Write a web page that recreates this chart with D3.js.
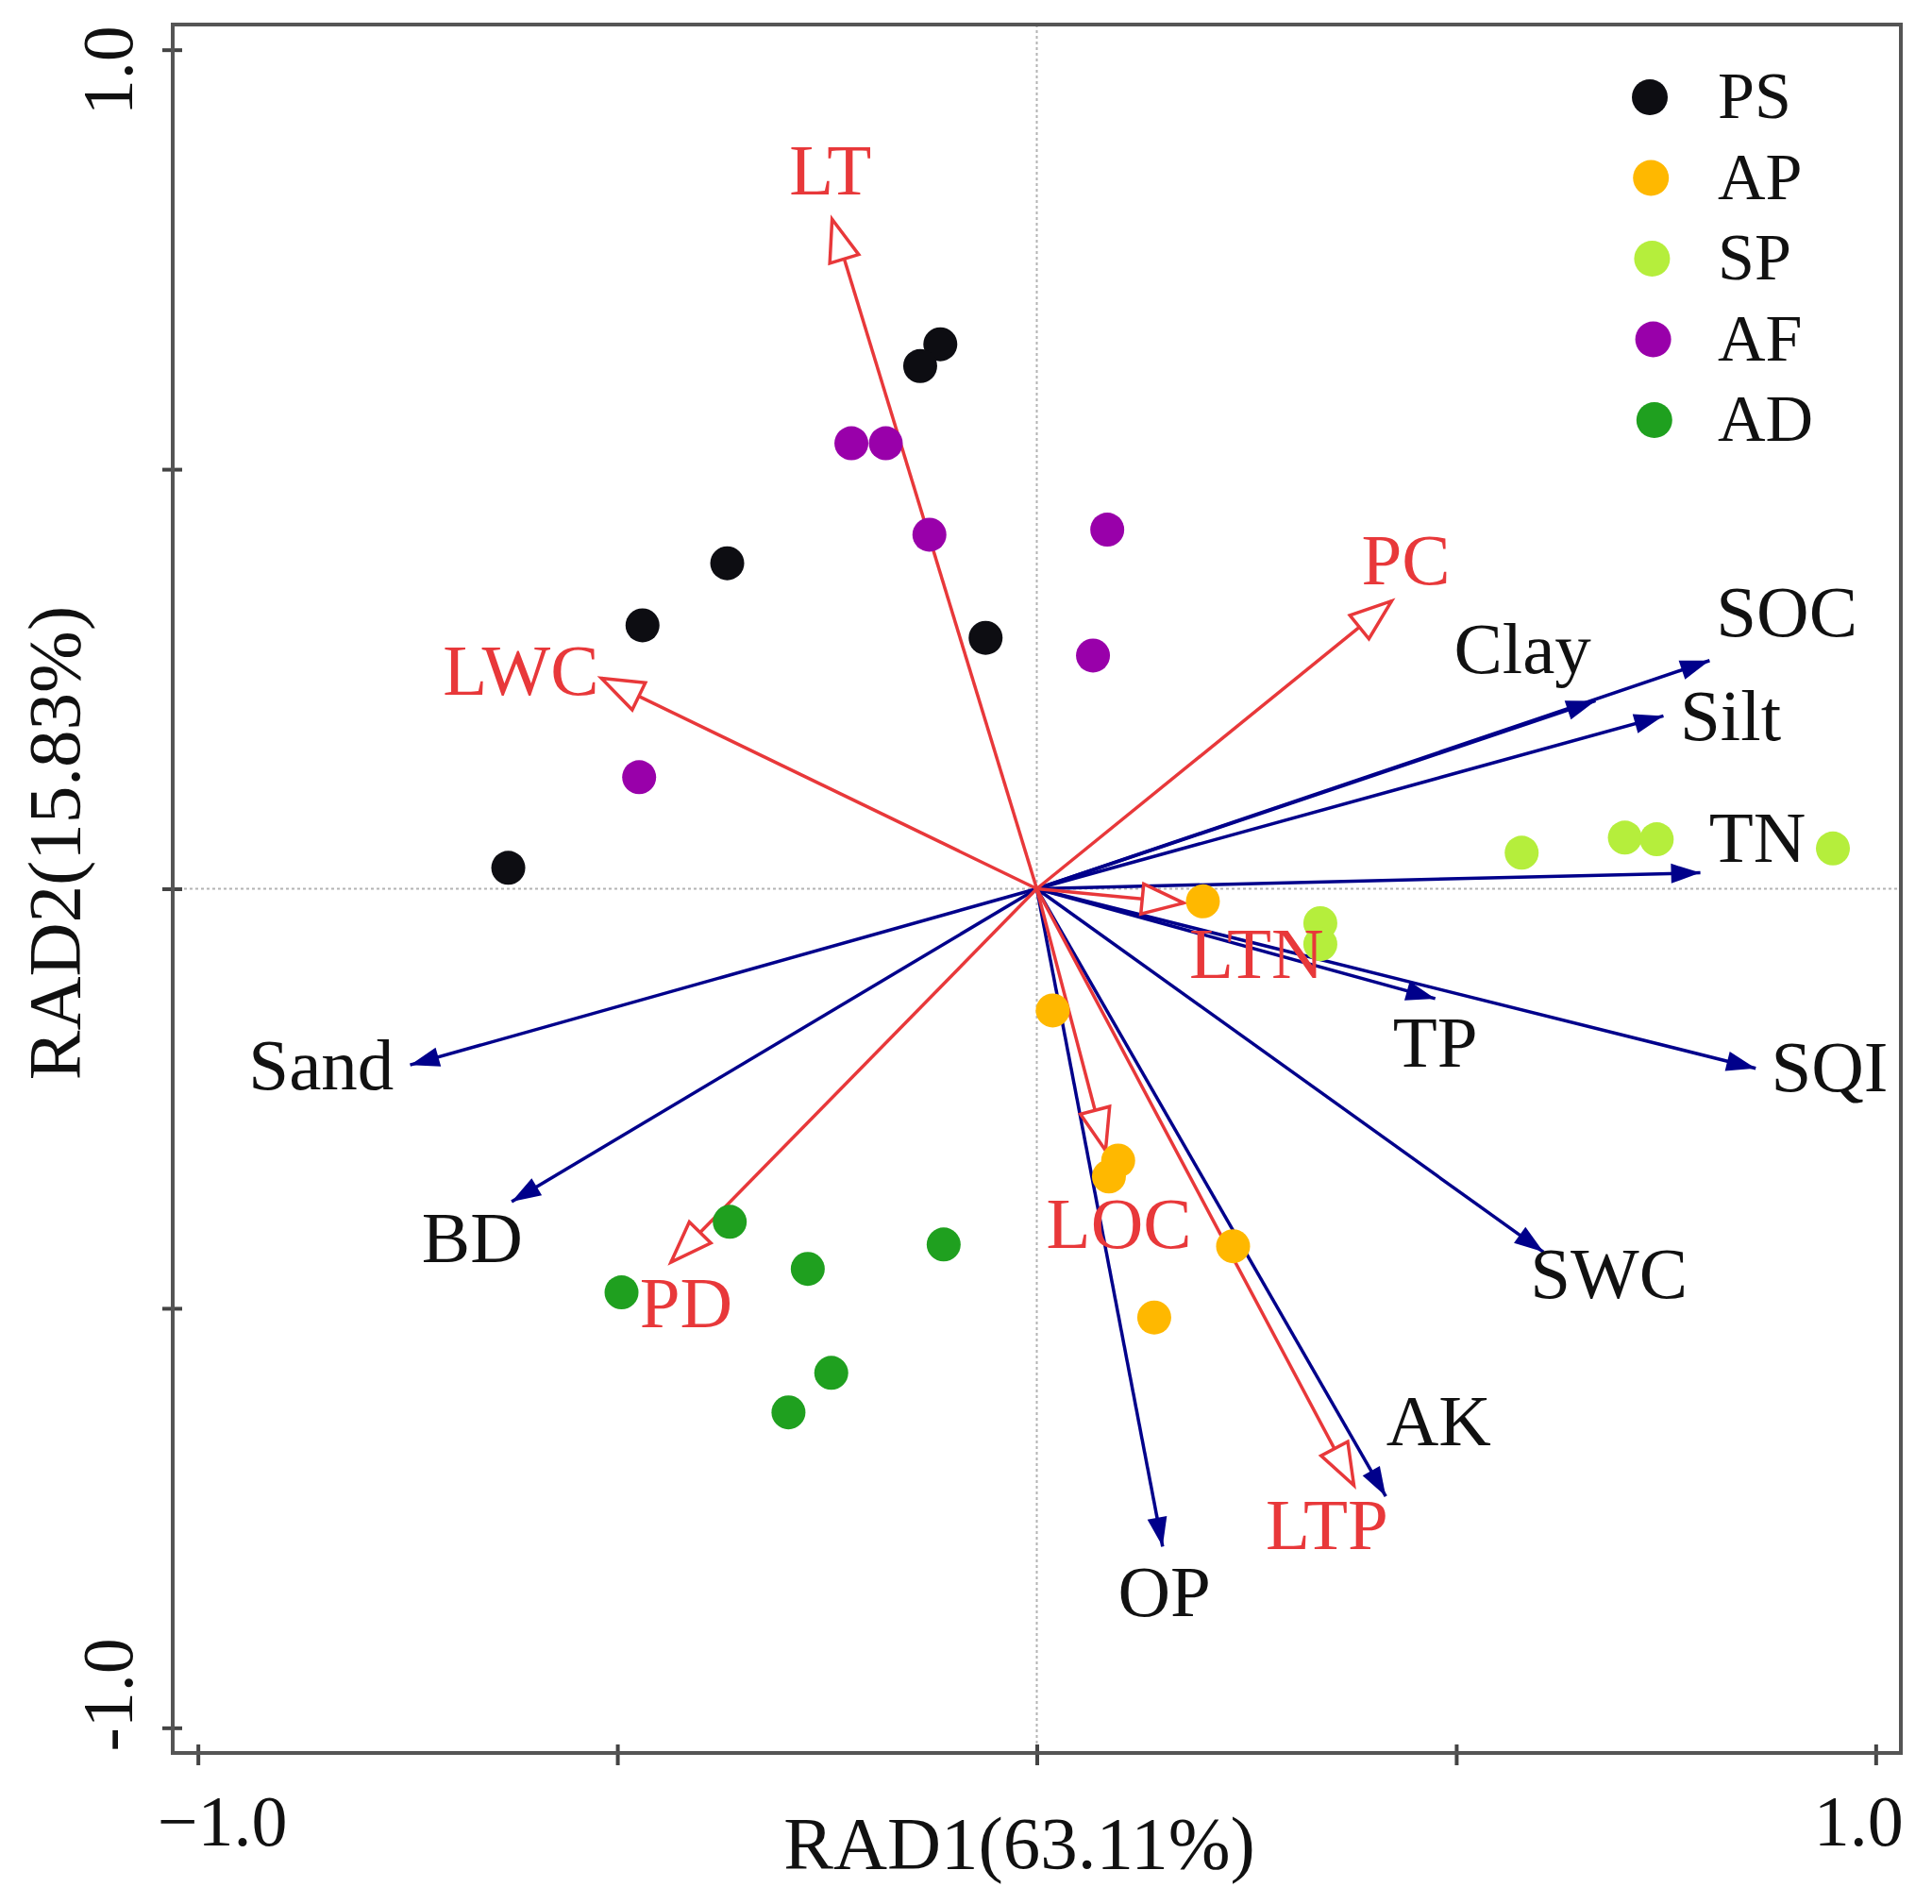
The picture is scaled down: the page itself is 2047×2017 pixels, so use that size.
<!DOCTYPE html>
<html>
<head>
<meta charset="utf-8">
<script src="https://cdn.jsdelivr.net/npm/d3@7"></script>
<style>
  body { margin: 0; background: #fff; }
  text { font-family: 'Liberation Serif', 'Times New Roman', serif; }
</style>
</head>
<body>
<div id="chart"></div>
<script>
// site scores (RAD1, RAD2) per treatment
const groups = ['PS', 'AP', 'SP', 'AF', 'AD']
const groupColors = ['#0d0d12', '#ffb800', '#b5ee3c', '#9900aa', '#1fa01f']

const psScores = [[-0.115, 0.649], [-0.139, 0.623], [-0.369, 0.388], [-0.470, 0.314], [-0.630, 0.025], [-0.061, 0.299]]
const apScores = [[0.198, -0.015], [0.019, -0.145], [0.097, -0.324], [0.086, -0.343], [0.234, -0.426], [0.140, -0.511]]
const spScores = [[0.578, 0.043], [0.701, 0.061], [0.739, 0.059], [0.949, 0.048], [0.338, -0.041], [0.338, -0.066]]
const afScores = [[-0.221, 0.531], [-0.180, 0.531], [-0.128, 0.422], [-0.474, 0.133], [0.084, 0.428], [0.067, 0.278]]
const adScores = [[-0.366, -0.397], [-0.495, -0.481], [-0.273, -0.453], [-0.111, -0.424], [-0.245, -0.577], [-0.296, -0.624]]
const groupScores = [psScores, apScores, spScores, afScores, adScores]

// soil variables (blue arrows)
const soilVars = ['Clay', 'SOC', 'Silt', 'TN', 'SQI', 'TP', 'SWC', 'AK', 'OP', 'BD', 'Sand']
const soilX = [0.666, 0.802, 0.747, 0.791, 0.857, 0.475, 0.604, 0.416, 0.150, -0.626, -0.747]
const soilY = [0.224, 0.272, 0.206, 0.019, -0.214, -0.131, -0.433, -0.724, -0.784, -0.373, -0.210]
const soilLabelX = [0.579, 0.894, 0.827, 0.859, 0.945, 0.475, 0.682, 0.479, 0.152, -0.673, -0.853]
const soilLabelY = [0.286, 0.329, 0.206, 0.061, -0.213, -0.183, -0.459, -0.635, -0.838, -0.416, -0.211]

// litter / plant variables (red arrows)
const plantVars = ['LT', 'LWC', 'PC', 'LTN', 'LOC', 'LTP', 'PD']
const plantX = [-0.244, -0.519, 0.423, 0.175, 0.082, 0.378, -0.436]
const plantY = [0.798, 0.251, 0.343, -0.017, -0.312, -0.711, -0.445]
const plantLabelX = [-0.246, -0.615, 0.440, 0.262, 0.098, 0.346, -0.418]
const plantLabelY = [0.856, 0.260, 0.391, -0.078, -0.400, -0.758, -0.494]

const tickValues = [-1, -0.5, 0, 0.5, 1]
const xTitle = 'RAD1(63.11%)'
const yTitle = 'RAD2(15.83%)'

const width = 2047
const height = 2017
const box = { left: 183, right: 2014, top: 26, bottom: 1857 }

const blue = '#00008b'
const red = '#e8383a'

const svg = d3.select('#chart')
  .append('svg')
  .attr('width', width)
  .attr('height', height)

svg.append('rect').attr('width', width).attr('height', height).attr('fill', '#fff')

const x = d3.scaleLinear().domain([-1.03, 1.03]).range([box.left, box.right])
const y = d3.scaleLinear().domain([-1.03, 1.03]).range([box.bottom, box.top])

// dotted zero lines
svg.append('line')
  .attr('x1', box.left).attr('x2', box.right)
  .attr('y1', y(0)).attr('y2', y(0))
  .attr('stroke', '#b4b4b4').attr('stroke-width', 2).attr('stroke-dasharray', '3,3')
svg.append('line')
  .attr('x1', x(0)).attr('x2', x(0))
  .attr('y1', box.top).attr('y2', box.bottom)
  .attr('stroke', '#b4b4b4').attr('stroke-width', 2).attr('stroke-dasharray', '3,3')

// axes (ticks cross the frame)
const xAxis = svg.append('g')
  .attr('transform', 'translate(0,' + box.bottom + ')')
  .call(d3.axisBottom(x).tickValues(tickValues).tickFormat(''))
xAxis.select('.domain').remove()
xAxis.selectAll('.tick line').attr('y1', -9).attr('y2', 13).attr('stroke', '#444').attr('stroke-width', 4)

const yAxis = svg.append('g')
  .attr('transform', 'translate(' + box.left + ',0)')
  .call(d3.axisLeft(y).tickValues(tickValues).tickFormat(''))
yAxis.select('.domain').remove()
yAxis.selectAll('.tick line').attr('x1', -11).attr('x2', 10).attr('stroke', '#444').attr('stroke-width', 4)

// tick labels only at the ends
const fmt = v => (v < 0 ? '\u22121.0' : '1.0')
svg.selectAll('.xlab')
  .data([-1, 1])
  .enter()
  .append('text')
  .attr('class', 'xlab')
  .attr('x', d => x(d) + (d < 0 ? 26 : -18))
  .attr('y', 1955)
  .attr('text-anchor', 'middle')
  .attr('font-size', 76)
  .attr('fill', '#111')
  .text(fmt)

svg.selectAll('.ylab')
  .data([-1, 1])
  .enter()
  .append('text')
  .attr('class', 'ylab')
  .attr('transform', d => 'translate(140,' + (y(d) + (d < 0 ? -35 : 22)) + ') rotate(-90)')
  .attr('text-anchor', 'middle')
  .attr('font-size', 76)
  .attr('fill', '#111')
  .text(d => (d < 0 ? '-1.0' : '1.0'))

// axis titles
svg.append('text')
  .attr('x', 1080).attr('y', 1979)
  .attr('text-anchor', 'middle')
  .attr('font-size', 79)
  .attr('fill', '#111')
  .text(xTitle)

svg.append('text')
  .attr('transform', 'translate(84,' + 893 + ') rotate(-90)')
  .attr('text-anchor', 'middle')
  .attr('font-size', 79)
  .attr('fill', '#111')
  .text(yTitle)

// arrow head polygon in pixel space
function headPoints(x0, y0, x1, y1, len, hw) {
  const dx = x1 - x0
  const dy = y1 - y0
  const l = Math.sqrt(dx * dx + dy * dy)
  const ux = dx / l
  const uy = dy / l
  const bx = x1 - ux * len
  const by = y1 - uy * len
  return [[x1, y1], [bx - uy * hw, by + ux * hw], [bx + uy * hw, by - ux * hw]]
    .map(p => p.join(',')).join(' ')
}

const arrows = svg.append('g')

// blue arrows
soilVars.forEach(function (name, i) {
  const x1 = x(soilX[i])
  const y1 = y(soilY[i])
  arrows.append('line')
    .attr('x1', x(0)).attr('y1', y(0))
    .attr('x2', x1).attr('y2', y1)
    .attr('stroke', blue).attr('stroke-width', 3.5)
  arrows.append('polygon')
    .attr('points', headPoints(x(0), y(0), x1, y1, 31, 10.5))
    .attr('fill', blue)
})

// red arrows with open heads
plantVars.forEach(function (name, i) {
  const x1 = x(plantX[i])
  const y1 = y(plantY[i])
  arrows.append('line')
    .attr('x1', x(0)).attr('y1', y(0))
    .attr('x2', x1).attr('y2', y1)
    .attr('stroke', red).attr('stroke-width', 3.5)
  arrows.append('polygon')
    .attr('points', headPoints(x(0), y(0), x1, y1, 44, 16))
    .attr('fill', '#fff')
    .attr('stroke', red).attr('stroke-width', 3.5)
})

// site points
groups.forEach(function (g, gi) {
  svg.append('g')
    .selectAll('circle')
    .data(groupScores[gi])
    .enter()
    .append('circle')
    .attr('cx', d => x(d[0]))
    .attr('cy', d => y(d[1]))
    .attr('r', 18)
    .attr('fill', groupColors[gi])
})

// labels
svg.append('g')
  .selectAll('text')
  .data(soilVars)
  .enter()
  .append('text')
  .attr('x', (d, i) => x(soilLabelX[i]))
  .attr('y', (d, i) => y(soilLabelY[i]))
  .attr('dy', '0.33em')
  .attr('text-anchor', 'middle')
  .attr('font-size', 77)
  .attr('fill', '#111')
  .text(d => d)

svg.append('g')
  .selectAll('text')
  .data(plantVars)
  .enter()
  .append('text')
  .attr('x', (d, i) => x(plantLabelX[i]))
  .attr('y', (d, i) => y(plantLabelY[i]))
  .attr('dy', '0.33em')
  .attr('text-anchor', 'middle')
  .attr('font-size', 77)
  .attr('fill', red)
  .text(d => d)

// legend
const legend = svg.append('g').attr('transform', 'translate(1748,103)')
legend.selectAll('circle')
  .data(groups)
  .enter()
  .append('circle')
  .attr('cx', (d, i) => i * 1.2)
  .attr('cy', (d, i) => i * 85.5)
  .attr('r', 19)
  .attr('fill', (d, i) => groupColors[i])
legend.selectAll('text')
  .data(groups)
  .enter()
  .append('text')
  .attr('x', 72)
  .attr('y', (d, i) => i * 85.5 + 22)
  .attr('font-size', 70)
  .attr('fill', '#111')
  .text(d => d)

// frame
svg.append('rect')
  .attr('x', box.left).attr('y', box.top)
  .attr('width', box.right - box.left)
  .attr('height', box.bottom - box.top)
  .attr('fill', 'none')
  .attr('stroke', '#555').attr('stroke-width', 4)
</script>
</body>
</html>
